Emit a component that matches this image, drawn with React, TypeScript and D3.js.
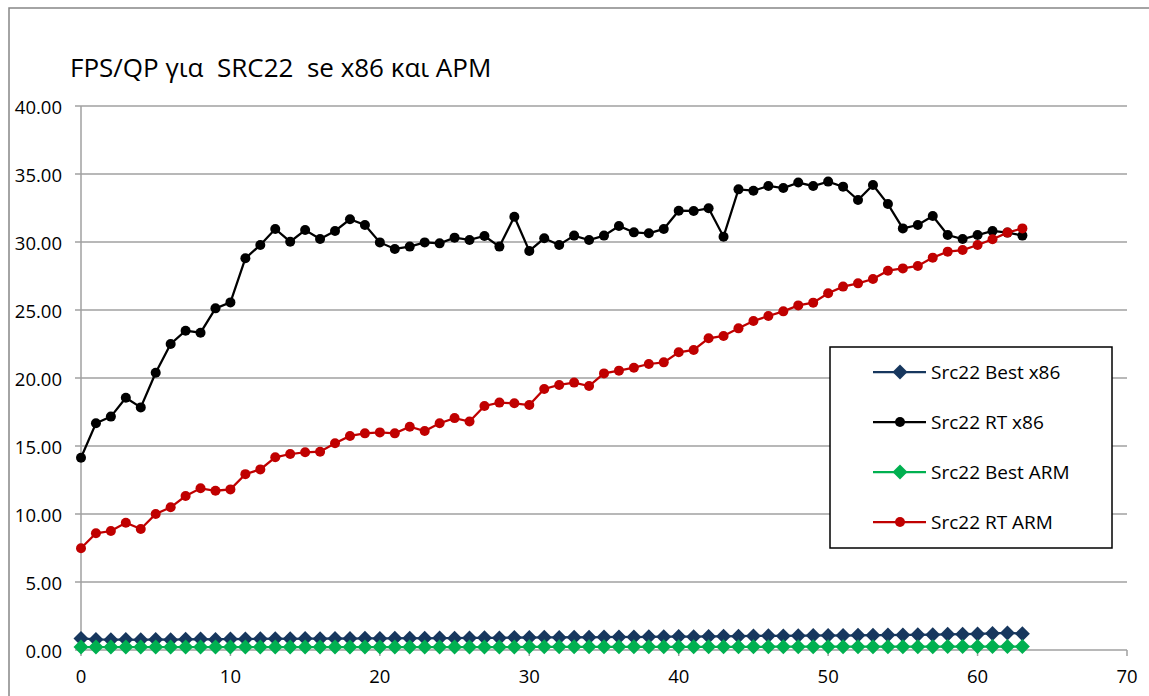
import React from "react";
import * as d3 from "d3";

const xValues: number[] = d3.range(0, 64);

const bestX86: number[] = [
  0.85, 0.78, 0.76, 0.77, 0.75, 0.78, 0.76, 0.79, 0.80, 0.78,
  0.81, 0.80, 0.82, 0.83, 0.82, 0.84, 0.83, 0.85, 0.84, 0.86,
  0.85, 0.86, 0.87, 0.86, 0.88, 0.87, 0.89, 0.90, 0.89, 0.92,
  0.91, 0.93, 0.92, 0.94, 0.93, 0.95, 0.96, 0.95, 0.97, 0.98,
  0.99, 0.98, 1.00, 1.01, 1.02, 1.03, 1.04, 1.03, 1.05, 1.06,
  1.07, 1.06, 1.08, 1.09, 1.10, 1.11, 1.12, 1.13, 1.15, 1.16,
  1.18, 1.22, 1.25, 1.20,
];

const rtX86: number[] = [
  14.14, 16.67, 17.16, 18.55, 17.84, 20.39, 22.5, 23.48, 23.33, 25.12,
  25.56, 28.8, 29.78, 30.96, 30.02, 30.88, 30.22, 30.81, 31.67, 31.25,
  29.97, 29.49, 29.66, 29.97, 29.9, 30.32, 30.15, 30.44, 29.66, 31.86,
  29.34, 30.27, 29.78, 30.47, 30.15, 30.47, 31.18, 30.71, 30.64, 30.96,
  32.3, 32.28, 32.48, 30.39, 33.87, 33.77, 34.12, 33.97, 34.37, 34.12,
  34.44, 34.07, 33.09, 34.19, 32.79, 31.0, 31.25, 31.91, 30.51, 30.22,
  30.51, 30.81, 30.69, 30.47,
];

const bestARM: number[] = [
  0.22, 0.22, 0.22, 0.22, 0.22, 0.22, 0.22, 0.22, 0.22, 0.22,
  0.22, 0.22, 0.22, 0.22, 0.22, 0.22, 0.22, 0.22, 0.22, 0.22,
  0.22, 0.22, 0.22, 0.22, 0.22, 0.22, 0.22, 0.22, 0.22, 0.22,
  0.23, 0.23, 0.23, 0.23, 0.23, 0.23, 0.23, 0.23, 0.23, 0.23,
  0.23, 0.23, 0.23, 0.23, 0.23, 0.23, 0.24, 0.24, 0.24, 0.24,
  0.24, 0.24, 0.24, 0.24, 0.24, 0.24, 0.24, 0.24, 0.25, 0.25,
  0.25, 0.25, 0.25, 0.25,
];

const rtARM: number[] = [
  7.48, 8.58, 8.75, 9.36, 8.9, 10.0, 10.49, 11.32, 11.89, 11.71,
  11.81, 12.93, 13.28, 14.17, 14.41, 14.54, 14.58, 15.2, 15.74, 15.93,
  16.0, 15.93, 16.42, 16.1, 16.67, 17.05, 16.8, 17.94, 18.19, 18.14,
  18.01, 19.19, 19.49, 19.66, 19.41, 20.34, 20.54, 20.76, 21.03, 21.15,
  21.89, 22.06, 22.92, 23.09, 23.65, 24.19, 24.56, 24.9, 25.34, 25.54,
  26.23, 26.72, 26.96, 27.28, 27.89, 28.06, 28.24, 28.85, 29.29, 29.41,
  29.78, 30.2, 30.69, 31.0,
];

const seriesNames: string[] = ["Src22 Best x86", "Src22 RT x86", "Src22 Best ARM", "Src22 RT ARM"];
const seriesColors: string[] = ["#17375E", "#000000", "#00B050", "#C00000"];
const seriesMarkers: string[] = ["diamond", "circle", "diamond", "circle"];
const yTicks: number[] = [0, 5, 10, 15, 20, 25, 30, 35, 40];
const xTicks: number[] = [0, 10, 20, 30, 40, 50, 60, 70];
const title = "FPS/QP για  SRC22  se x86 και APM";

const W = 1149;
const H = 696;
const FONT = "'Open Sans', 'Noto Sans', sans-serif";

export default function App() {
  const x = d3.scaleLinear().domain([0, 70]).range([81, 1127]);
  const y = d3.scaleLinear().domain([0, 40]).range([650, 106]);
  const allSeries = [bestX86, rtX86, bestARM, rtARM];
  const line = d3
    .line<number>()
    .x((_, i) => x(xValues[i]))
    .y((d) => y(d));

  const marker = (kind: string, cx: number, cy: number, color: string, key: string | number) => {
    if (kind === "diamond") {
      const s = 7.5;
      return (
        <path
          key={key}
          d={`M${cx},${cy - s}L${cx + s},${cy}L${cx},${cy + s}L${cx - s},${cy}Z`}
          fill={color}
        />
      );
    }
    return <circle key={key} cx={cx} cy={cy} r={5} fill={color} />;
  };

  const legendX = 830;
  const legendY = 347;
  const legendW = 282;
  const legendH = 201;

  return (
    <svg
      width={W}
      height={H}
      style={{ position: "absolute", left: 0, top: 0, background: "#fff" }}
      fontFamily={FONT}
    >
      <rect x={0} y={0} width={W} height={H} fill="#fff" />
      {/* chart area border */}
      <path d={`M9,${H}L9,8L${W},8`} fill="none" stroke="#868686" strokeWidth={1.5} />

      {/* title */}
      <text x={70} y={77} fontSize={26} fill="#000" style={{ whiteSpace: "pre" }}>
        {title}
      </text>

      {/* gridlines */}
      {yTicks.map((t) => (
        <line key={"g" + t} x1={75} x2={x(70)} y1={y(t)} y2={y(t)} stroke="#a0a0a0" strokeWidth={1.5} />
      ))}
      {/* y axis */}
      <line x1={x(0)} x2={x(0)} y1={y(40)} y2={y(0)} stroke="#a0a0a0" strokeWidth={1.5} />
      {/* x ticks */}
      {xTicks.map((t) => (
        <line key={"xt" + t} x1={x(t)} x2={x(t)} y1={y(0)} y2={y(0) + 6} stroke="#a0a0a0" strokeWidth={1.5} />
      ))}
      {/* y labels */}
      {yTicks.map((t) => (
        <text key={"yl" + t} x={62} y={y(t)} textAnchor="end" dominantBaseline="central" fontSize={18.5} fill="#000">
          {t.toFixed(2)}
        </text>
      ))}
      {/* x labels */}
      {xTicks.map((t) => (
        <text key={"xl" + t} x={x(t)} y={675} textAnchor="middle" dominantBaseline="central" fontSize={18.5} fill="#000">
          {t}
        </text>
      ))}

      {/* series */}
      {allSeries.map((vals, si) => (
        <g key={"s" + si}>
          <path d={line(vals) || ""} fill="none" stroke={seriesColors[si]} strokeWidth={2.25} />
          {vals.map((v, i) => marker(seriesMarkers[si], x(xValues[i]), y(v), seriesColors[si], i))}
        </g>
      ))}

      {/* legend */}
      <rect x={legendX} y={legendY} width={legendW} height={legendH} fill="#fff" stroke="#000" strokeWidth={1.5} />
      {seriesNames.map((name, i) => {
        const ly = 372 + i * 50;
        return (
          <g key={"lg" + i}>
            <line x1={873} x2={926} y1={ly} y2={ly} stroke={seriesColors[i]} strokeWidth={2.25} />
            {marker(seriesMarkers[i], 900, ly, seriesColors[i], "m")}
            <text x={931} y={ly} dominantBaseline="central" fontSize={19} fill="#000">
              {name}
            </text>
          </g>
        );
      })}
    </svg>
  );
}
